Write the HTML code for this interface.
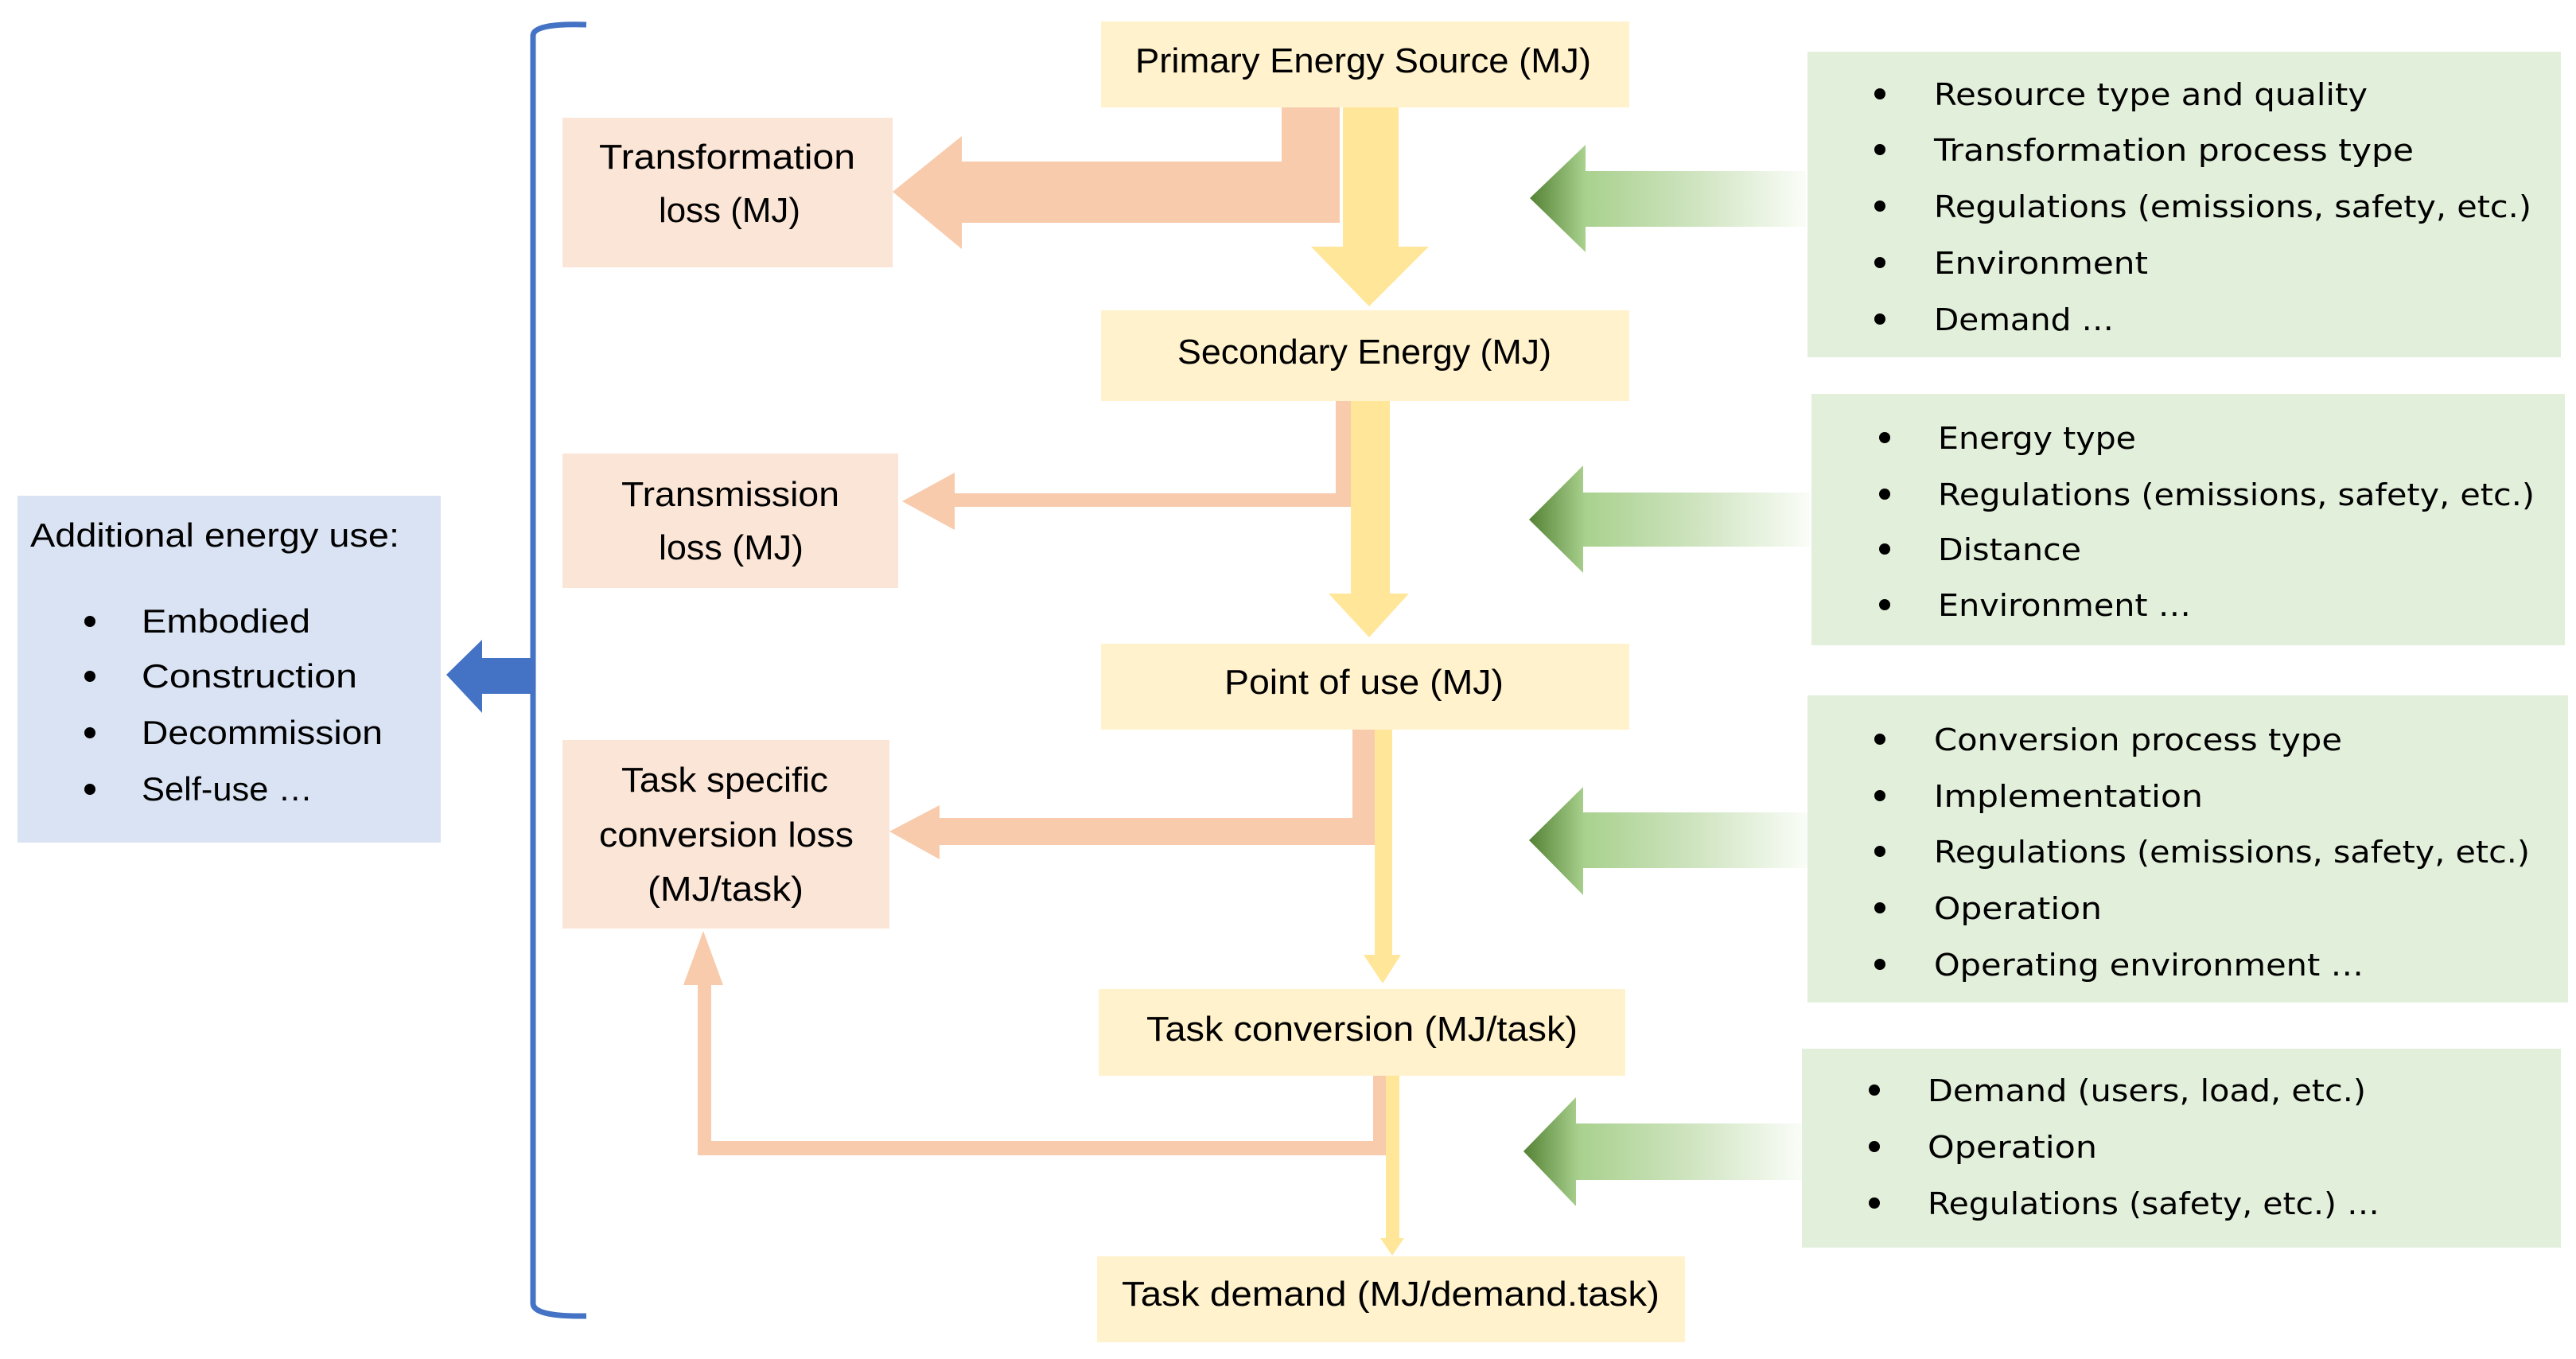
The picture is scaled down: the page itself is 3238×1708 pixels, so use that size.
<!DOCTYPE html>
<html><head><meta charset="utf-8"><style>html,body{margin:0;padding:0;background:#fff}svg{display:block}</style></head>
<body>
<svg width="3238" height="1708" viewBox="0 0 3238 1708" xmlns="http://www.w3.org/2000/svg">
<defs>
<linearGradient id="g" x1="0" x2="1" y1="0" y2="0">
<stop offset="0" stop-color="#548235"/>
<stop offset="0.2" stop-color="#a9d18e"/>
<stop offset="0.6" stop-color="#cfe4c0"/>
<stop offset="1" stop-color="#fafdf8"/>
</linearGradient>
</defs>
<g font-family="'Liberation Sans', sans-serif" fill="#000">
<!-- bracket -->
<path d="M737,31 Q670,29 670,45 L670,1638 Q670,1655 737,1654" fill="none" stroke="#4472c4" stroke-width="7"/>
<!-- blue arrow -->
<polygon points="561,848 606,804 606,827 668,827 668,872 606,872 606,896" fill="#4472c4"/>
<!-- additional box -->
<rect x="22" y="623" width="532" height="436" fill="#dae3f3"/>
<text x="38" y="687" font-size="42" textLength="464" lengthAdjust="spacingAndGlyphs">Additional energy use:</text>
<g font-size="42">
<circle cx="113" cy="781" r="7"/><text x="178" y="795" textLength="212" lengthAdjust="spacingAndGlyphs">Embodied</text>
<circle cx="113" cy="850" r="7"/><text x="178" y="864" textLength="271" lengthAdjust="spacingAndGlyphs">Construction</text>
<circle cx="113" cy="921" r="7"/><text x="178" y="935" textLength="303" lengthAdjust="spacingAndGlyphs">Decommission</text>
<circle cx="113" cy="992" r="7"/><text x="178" y="1006" textLength="215" lengthAdjust="spacingAndGlyphs">Self-use …</text>
</g>
<!-- orange arrows -->
<polygon points="1611,135 1684,135 1684,280 1209,280 1209,313 1122,241 1209,171 1209,203 1611,203" fill="#f8cbad"/>
<polygon points="1679,504 1698,504 1698,637 1200,637 1200,666 1134,630 1200,594 1200,620 1679,620" fill="#f8cbad"/>
<polygon points="1700,917 1728,917 1728,1062 1181,1062 1181,1080 1118,1045 1181,1012 1181,1028 1700,1028" fill="#f8cbad"/>
<polygon points="1726,1352 1743,1352 1743,1452 877,1452 877,1238 859,1238 884,1170 909,1238 894,1238 894,1434 1726,1434" fill="#f8cbad"/>
<!-- yellow arrows -->
<polygon points="1688,135 1758,135 1758,310 1796,310 1721,385 1648,310 1688,310" fill="#ffe699"/>
<polygon points="1698,504 1747,504 1747,746 1771,746 1721,801 1670,746 1698,746" fill="#ffe699"/>
<polygon points="1728,917 1750,917 1750,1200 1761,1200 1738,1236 1714,1200 1728,1200" fill="#ffe699"/>
<polygon points="1742,1352 1759,1352 1759,1556 1765,1556 1750,1578 1735,1556 1742,1556" fill="#ffe699"/>
<!-- green arrows -->
<polygon points="1923,249 1993,182 1993,215 2270,215 2270,285 1993,285 1993,317" fill="url(#g)"/>
<polygon points="1922,653 1990,585 1990,619 2276,619 2276,687 1990,687 1990,720" fill="url(#g)"/>
<polygon points="1922,1056 1990,989 1990,1021 2272,1021 2272,1091 1990,1091 1990,1125" fill="url(#g)"/>
<polygon points="1915,1447 1981,1379 1981,1412 2265,1412 2265,1483 1981,1483 1981,1516" fill="url(#g)"/>
<!-- center boxes -->
<g fill="#fff2cc">
<rect x="1384" y="27" width="664" height="108"/>
<rect x="1384" y="390" width="664" height="114"/>
<rect x="1384" y="809" width="664" height="108"/>
<rect x="1381" y="1243" width="662" height="109"/>
<rect x="1379" y="1579" width="739" height="108"/>
</g>
<g font-size="44">
<text x="1427" y="91" textLength="573" lengthAdjust="spacingAndGlyphs">Primary Energy Source (MJ)</text>
<text x="1480" y="457" textLength="470" lengthAdjust="spacingAndGlyphs">Secondary Energy (MJ)</text>
<text x="1539" y="872" textLength="351" lengthAdjust="spacingAndGlyphs">Point of use (MJ)</text>
<text x="1441" y="1308" textLength="542" lengthAdjust="spacingAndGlyphs">Task conversion (MJ/task)</text>
<text x="1410" y="1641" textLength="676" lengthAdjust="spacingAndGlyphs">Task demand (MJ/demand.task)</text>
</g>
<!-- loss boxes -->
<g fill="#fbe5d6">
<rect x="707" y="148" width="415" height="188"/>
<rect x="707" y="570" width="422" height="169"/>
<rect x="707" y="930" width="411" height="237"/>
</g>
<g font-size="44">
<text x="753" y="212" textLength="322" lengthAdjust="spacingAndGlyphs">Transformation</text>
<text x="828" y="279" textLength="178" lengthAdjust="spacingAndGlyphs">loss (MJ)</text>
<text x="781" y="636" textLength="274" lengthAdjust="spacingAndGlyphs">Transmission</text>
<text x="828" y="703" textLength="182" lengthAdjust="spacingAndGlyphs">loss (MJ)</text>
<text x="781" y="995" textLength="260" lengthAdjust="spacingAndGlyphs">Task specific</text>
<text x="753" y="1064" textLength="320" lengthAdjust="spacingAndGlyphs">conversion loss</text>
<text x="814" y="1132" textLength="196" lengthAdjust="spacingAndGlyphs">(MJ/task)</text>
</g>
<!-- green boxes -->
<g fill="#e2efda">
<rect x="2272" y="65" width="947" height="384"/>
<rect x="2277" y="495" width="947" height="316"/>
<rect x="2272" y="874" width="956" height="386"/>
<rect x="2265" y="1318" width="954" height="250"/>
</g>
<g font-family="'DejaVu Sans', sans-serif" font-size="38">
<circle cx="2363" cy="118" r="7"/><text x="2431" y="132" textLength="545" lengthAdjust="spacingAndGlyphs">Resource type and quality</text>
<circle cx="2363" cy="188" r="7"/><text x="2431" y="202" textLength="603" lengthAdjust="spacingAndGlyphs">Transformation process type</text>
<circle cx="2363" cy="259" r="7"/><text x="2431" y="273" textLength="751" lengthAdjust="spacingAndGlyphs">Regulations (emissions, safety, etc.)</text>
<circle cx="2363" cy="330" r="7"/><text x="2431" y="344" textLength="269" lengthAdjust="spacingAndGlyphs">Environment</text>
<circle cx="2363" cy="401" r="7"/><text x="2431" y="415" textLength="226" lengthAdjust="spacingAndGlyphs">Demand …</text>

<circle cx="2369" cy="550" r="7"/><text x="2436" y="564" textLength="249" lengthAdjust="spacingAndGlyphs">Energy type</text>
<circle cx="2369" cy="621" r="7"/><text x="2436" y="635" textLength="750" lengthAdjust="spacingAndGlyphs">Regulations (emissions, safety, etc.)</text>
<circle cx="2369" cy="690" r="7"/><text x="2436" y="704" textLength="180" lengthAdjust="spacingAndGlyphs">Distance</text>
<circle cx="2369" cy="760" r="7"/><text x="2436" y="774" textLength="318" lengthAdjust="spacingAndGlyphs">Environment …</text>

<circle cx="2363" cy="929" r="7"/><text x="2431" y="943" textLength="513" lengthAdjust="spacingAndGlyphs">Conversion process type</text>
<circle cx="2363" cy="1000" r="7"/><text x="2431" y="1014" textLength="338" lengthAdjust="spacingAndGlyphs">Implementation</text>
<circle cx="2363" cy="1070" r="7"/><text x="2431" y="1084" textLength="749" lengthAdjust="spacingAndGlyphs">Regulations (emissions, safety, etc.)</text>
<circle cx="2363" cy="1141" r="7"/><text x="2431" y="1155" textLength="211" lengthAdjust="spacingAndGlyphs">Operation</text>
<circle cx="2363" cy="1212" r="7"/><text x="2431" y="1226" textLength="540" lengthAdjust="spacingAndGlyphs">Operating environment …</text>

<circle cx="2356" cy="1370" r="7"/><text x="2423" y="1384" textLength="551" lengthAdjust="spacingAndGlyphs">Demand (users, load, etc.)</text>
<circle cx="2356" cy="1441" r="7"/><text x="2423" y="1455" textLength="213" lengthAdjust="spacingAndGlyphs">Operation</text>
<circle cx="2356" cy="1512" r="7"/><text x="2423" y="1526" textLength="568" lengthAdjust="spacingAndGlyphs">Regulations (safety, etc.) …</text>
</g>
</g>
</svg>
</body></html>
